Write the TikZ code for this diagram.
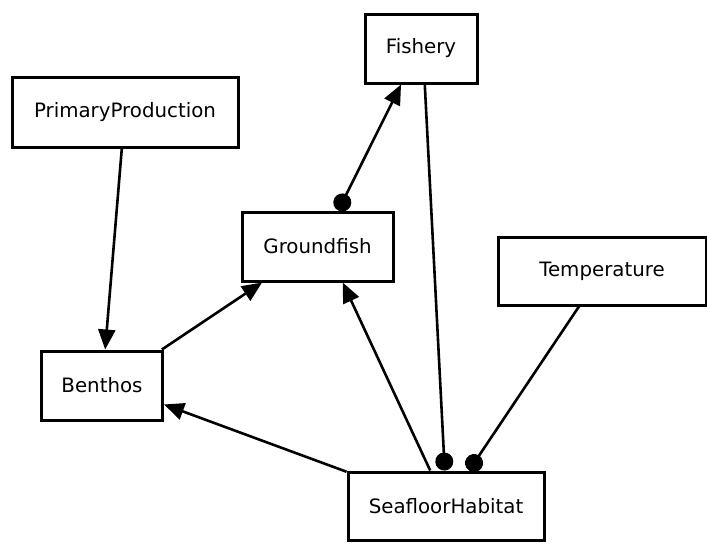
\documentclass[tikz,border=0pt]{standalone}
\usepackage{fontspec}
\setmainfont{DejaVu Sans}
\usetikzlibrary{arrows.meta}

\begin{document}
\begin{tikzpicture}[x=1pt, y=-1pt]
		\tikzset{factor/.style={shape = rectangle, draw, line width = 3pt, inner sep = 0pt,
				font = \fontsize{19.8}{22}\selectfont}}
		\tikzset{edge/.style={line width = 2.6pt, -{Triangle[length = 20pt, width = 17pt]}}}
		\tikzset{dotted end/.style={line width = 2.6pt, -{Circle[length = 18pt]}}}
		\tikzset{dot arrow/.style={line width = 2.6pt, {Circle[length = 18pt]}-{Triangle[length = 20pt, width = 17pt]}}}
		\useasboundingbox (0, 0) rectangle (707, 544);
					%vertices
					\node[factor, minimum width = 112pt, minimum height = 69pt] (fishery) at (421, 48.5) {Fishery};
					\node[factor, minimum width = 226pt, minimum height = 70pt] (primary) at (125, 112) {PrimaryProduction};
					\node[factor, minimum width = 151pt, minimum height = 69pt] (groundfish) at (317.5, 246.5) {Groundfish};
					\node[factor, minimum width = 208pt, minimum height = 68pt] (temperature) at (602, 271) {Temperature};
					\node[factor, minimum width = 121pt, minimum height = 69pt] (benthos) at (102, 385.5) {Benthos};
					\node[factor, minimum width = 196pt, minimum height = 68pt] (seafloor) at (446, 506) {SeafloorHabitat};
					%edges
					\path[edge] (primary.265) edge (benthos.85);
					\path[edge] (benthos.31) edge (groundfish.213);
					\path[edge] (seafloor.161) edge (benthos.343);
					\path[edge] (seafloor.114.6) edge (groundfish.305);
					\path[dot arrow] (groundfish.60) edge (fishery.241);
					\path[dotted end] (fishery.276.6) edge (seafloor.92.5);
					\path[dotted end] (temperature.237) edge (seafloor.57);
					
					\end{tikzpicture}
\end{document}
